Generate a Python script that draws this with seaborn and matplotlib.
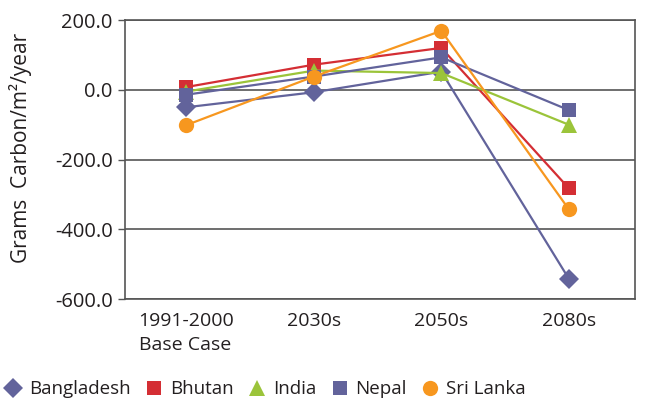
import numpy as np
import pandas as pd
import seaborn as sns
import matplotlib.pyplot as plt

# data
periods = ['1991-2000\nBase Case', '2030s', '2050s', '2080s']
countries = ['Bangladesh', 'Bhutan', 'India', 'Nepal', 'Sri Lanka']
bangladesh = [-50, -7, 52, -541]
bhutan = [8, 72, 120, -282]
india = [-5, 55, 48, -100]
nepal = [-14, 38, 93, -58]
sri_lanka = [-101, 38, 169, -342]

colors = {'Bangladesh': '#62639b', 'Bhutan': '#d42e34', 'India': '#9bc43a',
          'Nepal': '#62639b', 'Sri Lanka': '#f7971f'}
markers = {'Bangladesh': 'D', 'Bhutan': 's', 'India': '^', 'Nepal': 's', 'Sri Lanka': 'o'}
msizes = {'Bangladesh': 10, 'Bhutan': 10, 'India': 11, 'Nepal': 10, 'Sri Lanka': 11}

rows = []
for name, vals in zip(countries, [bangladesh, bhutan, india, nepal, sri_lanka]):
    for i, v in enumerate(vals):
        rows.append({'pos': i, 'country': name, 'value': v})
df = pd.DataFrame(rows)

sns.set_style('white')
plt.rcParams['font.family'] = ['Open Sans', 'DejaVu Sans']

fig, ax = plt.subplots(figsize=(6.46, 4.0), dpi=100)
fig.subplots_adjust(left=0.194, right=0.983, top=0.95, bottom=0.252)

for name in countries:
    sub = df[df.country == name]
    sns.lineplot(data=sub, x='pos', y='value', color=colors[name], marker=markers[name],
                 markersize=msizes[name], markeredgewidth=0,
                 linewidth=1.6, label=name, ax=ax, zorder=3)

ax.set_xlim(-0.48, 3.52)
ax.set_ylim(-600, 200)
ax.set_yticks(np.arange(-600, 201, 200))
ax.set_yticklabels(['%.1f' % t for t in np.arange(-600, 201, 200)], fontsize=14.5, color='#231f20')
ax.set_xticks(range(4))
ax.set_xticklabels(periods, fontsize=14, color='#231f20', linespacing=1.45)
for lbl in ax.get_xticklabels():
    lbl.set_verticalalignment('top')
    lbl.set_multialignment('left')
ax.tick_params(axis='y', length=5, width=1, color='#555555', direction='out', left=True, pad=4)
ax.tick_params(axis='x', length=0, pad=9)
ax.grid(axis='y', color='#555555', linewidth=1.2)
ax.set_axisbelow(True)
for s in ax.spines.values():
    s.set_color('#555555')
    s.set_linewidth(1.2)
ax.set_xlabel('')
ax.set_ylabel('Grams  Carbon/m\u00b2/year', fontsize=15, color='#231f20')
ax.yaxis.set_label_coords(-0.184, 0.54)

ax.legend(loc='center left', bbox_to_anchor=(-0.235, -0.322), ncol=5, frameon=False,
          fontsize=13.5, handlelength=0.8, handletextpad=0.45, columnspacing=0.85,
          borderaxespad=0, borderpad=0, markerscale=1.0)
leg = ax.get_legend()
for line in leg.get_lines():
    line.set_linestyle('')
for t in leg.get_texts():
    t.set_color('#231f20')

fig.savefig('out.png', dpi=100)
